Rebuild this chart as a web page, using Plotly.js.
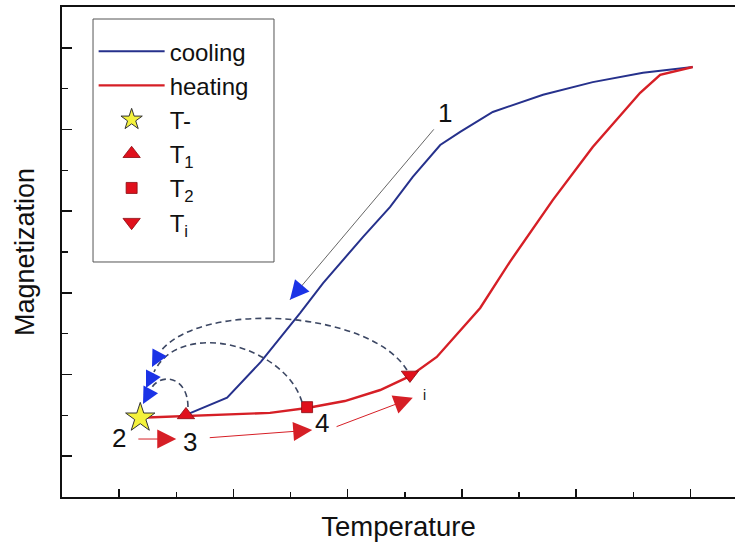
<!DOCTYPE html>
<html>
<head>
<meta charset="utf-8">
<script src="https://cdn.plot.ly/plotly-3.0.1.min.js"></script>
<style>html,body{margin:0;padding:0;background:#fff;}#chart{width:735px;height:542px;}</style>
</head>
<body>
<div id="chart"></div>
<script>
// Cooling curve (blue)
const coolingX = [2.17, 2.89, 3.48, 4.17, 4.57, 4.92, 5.27, 5.74, 6.14, 6.62, 6.97, 7.54, 8.42, 9.29, 10.17, 11.04];
const coolingY = [2.01, 2.43, 3.31, 4.51, 5.24, 5.81, 6.37, 7.10, 7.84, 8.62, 8.94, 9.43, 9.85, 10.16, 10.39, 10.53];
// Heating curve (red)
const heatingX = [1.37, 2.17, 2.94, 3.64, 4.29, 4.95, 5.57, 6.09, 6.56, 6.97, 7.32, 7.84, 8.59, 9.29, 10.12, 10.47, 11.04];
const heatingY = [1.94, 1.98, 2.01, 2.06, 2.18, 2.35, 2.62, 2.96, 3.43, 4.09, 4.63, 5.76, 7.27, 8.57, 9.90, 10.34, 10.53];
// Special temperature points
const tMinus = {x: [1.37], y: [1.94]};
const t1 = {x: [2.17], y: [2.01]};
const t2 = {x: [4.29], y: [2.20]};
const ti = {x: [6.09], y: [2.99]};
// Labels
const seriesNames = ["cooling", "heating", "T-", "T<sub>1</sub>", "T<sub>2</sub>", "T<sub>i</sub>"];
const axisTitles = {x: "Temperature", y: "Magnetization"};

const FONT = "Liberation Sans, Arial, Helvetica, sans-serif";
const BLUE = "#26318c";
const RED = "#d61f26";
const MRED = "#e0101c";
const DASH = "#3c4763";
const ABLUE = "#1b33e6";

const traces = [
  {x: coolingX, y: coolingY, mode: "lines", name: seriesNames[0], legendgroup: "a",
   line: {color: BLUE, width: 2}},
  {x: heatingX, y: heatingY, mode: "lines", name: seriesNames[1], legendgroup: "b",
   line: {color: RED, width: 2.4}},
  {x: tMinus.x, y: tMinus.y, mode: "markers", name: seriesNames[2], legendgroup: "c",
   marker: {symbol: "star", size: 22, color: "#f4f23c", line: {color: "#333", width: 1}}},
  {x: t1.x, y: t1.y, mode: "markers", name: seriesNames[3], legendgroup: "d",
   marker: {symbol: "triangle-up", size: 15, color: MRED, line: {color: "#8a0a10", width: 0.8}}},
  {x: t2.x, y: t2.y, mode: "markers", name: seriesNames[4], legendgroup: "e",
   marker: {symbol: "square", size: 11, color: MRED, line: {color: "#8a0a10", width: 0.8}}},
  {x: ti.x, y: ti.y, mode: "markers", name: seriesNames[5], legendgroup: "f",
   marker: {symbol: "triangle-down", size: 15, color: MRED, line: {color: "#8a0a10", width: 0.8}}}
];

function arc(p0, c1, c2, p3) {
  return {type: "path", xref: "x", yref: "y", layer: "above",
    path: "M" + p0.join(",") + " C" + c1.join(",") + " " + c2.join(",") + " " + p3.join(","),
    line: {color: DASH, width: 1.6, dash: "6px,4px"}};
}
const shapes = [
  // legend frame
  {type: "rect", xref: "paper", yref: "paper", x0: 0.0461, x1: 0.315, y0: 0.4796, y1: 0.9755,
   line: {color: "#555", width: 1}, fillcolor: "rgba(0,0,0,0)", layer: "above"},
  arc([2.205, 2.204], [2.205, 2.963], [1.715, 3.061], [1.558, 2.645]),
  arc([4.200, 2.327], [3.903, 3.723], [2.065, 4.384], [1.610, 3.061]),
  arc([6.038, 3.110], [5.390, 4.580], [2.415, 4.825], [1.715, 3.551])
];

function head(tip, tail, color, w, s) {
  return {x: tip[0], y: tip[1], ax: tail[0], ay: tail[1], axref: "x", ayref: "y",
    xref: "x", yref: "y", text: "", showarrow: true, arrowhead: 2,
    arrowcolor: color, arrowwidth: w, arrowsize: s, standoff: 0, startstandoff: 0};
}
function label(x, y, t, size) {
  return {x: x, y: y, xref: "x", yref: "y", text: t, showarrow: false,
    font: {family: FONT, size: size, color: "#111"}};
}
const annotations = [
  // arc arrow heads
  head([1.418, 2.278], [1.558, 2.645], ABLUE, 1.5, 2.2),
  head([1.470, 2.670], [1.610, 3.061], ABLUE, 1.5, 2.2),
  head([1.575, 3.184], [1.715, 3.551], ABLUE, 1.5, 2.2),
  // arrow 1: grey shaft + blue head
  {x: 3.99, y: 4.83, ax: 6.53, ay: 9.04, axref: "x", ayref: "y", xref: "x", yref: "y",
   text: "", showarrow: true, arrowhead: 0, arrowcolor: "#666", arrowwidth: 1, standoff: 0},
  head([3.99, 4.83], [4.16, 5.11], ABLUE, 1, 3.8),
  // red heating arrows
  head([2.00, 1.42], [1.31, 1.42], RED, 1, 3.8),
  head([4.38, 1.64], [2.56, 1.45], RED, 1, 3.8),
  head([6.14, 2.43], [4.78, 1.71], RED, 1, 3.8),
  // labels
  label(6.70, 9.40, "1", 26),
  label(1.00, 1.44, "2", 26),
  label(2.24, 1.35, "3", 26),
  label(4.55, 1.81, "4", 26),
  label(6.34, 2.50, "i", 14)
];

const layout = {
  width: 735, height: 542,
  margin: {l: 62, r: 0, t: 7, b: 45},
  paper_bgcolor: "#fff", plot_bgcolor: "#fff",
  font: {family: FONT, color: "#111"},
  showlegend: true,
  legend: {x: 0.047, y: 0.955, xanchor: "left", yanchor: "top",
    bgcolor: "rgba(0,0,0,0)", borderwidth: 0,
    font: {family: FONT, size: 24, color: "#111"},
    itemwidth: 66, tracegroupgap: 0, traceorder: "normal"},
  xaxis: {range: [0, 11.78], showgrid: false, zeroline: false,
    showline: true, linecolor: "#111", linewidth: 2, mirror: true,
    ticks: "inside", tick0: 1, dtick: 2, ticklen: 8, tickwidth: 1.5, tickcolor: "#111",
    minor: {ticks: "inside", tick0: 0, dtick: 1, ticklen: 5, tickwidth: 1.5, tickcolor: "#111"},
    showticklabels: false,
    title: {text: axisTitles.x, font: {family: FONT, size: 27.5, color: "#111"}, standoff: 21}},
  yaxis: {range: [0, 12], showgrid: false, zeroline: false,
    showline: true, linecolor: "#111", linewidth: 2, mirror: false,
    ticks: "inside", tick0: 1, dtick: 2, ticklen: 10, tickwidth: 1.5, tickcolor: "#111",
    minor: {ticks: "inside", tick0: 0, dtick: 1, ticklen: 6, tickwidth: 1.5, tickcolor: "#111"},
    showticklabels: false,
    title: {text: axisTitles.y, font: {family: FONT, size: 27, color: "#111"}, standoff: 18}},
  shapes: shapes,
  annotations: annotations
};

Plotly.newPlot("chart", traces, layout, {displayModeBar: false, staticPlot: true});
</script>
</body>
</html>
